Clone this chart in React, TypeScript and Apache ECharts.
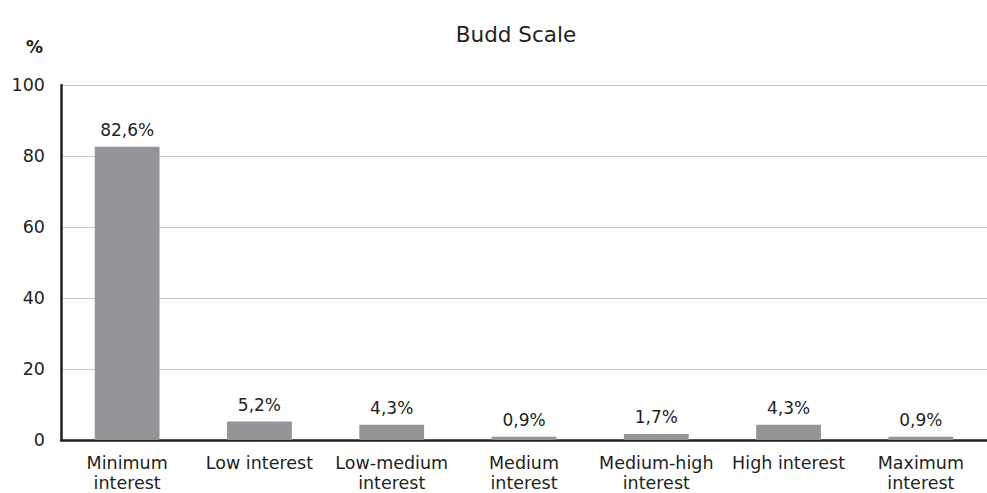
import React, { useEffect, useRef } from "react";
import * as echarts from "echarts";

const categories = [
  "Minimum\ninterest",
  "Low interest",
  "Low-medium\ninterest",
  "Medium\ninterest",
  "Medium-high\ninterest",
  "High interest",
  "Maximum\ninterest",
];
const values = [82.6, 5.2, 4.3, 0.9, 1.7, 4.3, 0.9];
const yTicks = [0, 20, 40, 60, 80, 100];

const FONT = "'DejaVu Sans', sans-serif";
const TEXT = "#231f20";

export default function App() {
  const ref = useRef<HTMLDivElement>(null);

  useEffect(() => {
    if (!ref.current) return;
    const chart = echarts.init(ref.current, undefined, { renderer: "svg" });
    chart.setOption({
      animation: false,
      backgroundColor: "#ffffff",
      title: {
        text: "Budd Scale",
        left: 511,
        top: 18,
        textAlign: "center",
        textStyle: { fontFamily: FONT, fontSize: 21.5, fontWeight: "normal", color: TEXT },
      },
      graphic: [
        {
          type: "text",
          left: 26,
          top: 38,
          style: { text: "%", fontFamily: FONT, fontSize: 17, fontWeight: "bold", fill: TEXT },
        },
      ],
      grid: { left: 61, right: 0, top: 85, bottom: 52, containLabel: false },
      xAxis: {
        type: "category",
        data: categories,
        axisLine: { lineStyle: { color: TEXT, width: 2.5 } },
        axisTick: { show: false },
        axisLabel: {
          color: TEXT,
          fontFamily: FONT,
          fontSize: 17.5,
          lineHeight: 20,
          margin: 13,
          interval: 0,
        },
      },
      yAxis: {
        type: "value",
        min: yTicks[0],
        max: yTicks[yTicks.length - 1],
        interval: 20,
        axisLine: { show: true, lineStyle: { color: TEXT, width: 2.5 } },
        axisTick: { show: false },
        axisLabel: { color: TEXT, fontFamily: FONT, fontSize: 17.5, margin: 16 },
        splitLine: { lineStyle: { color: "#c8c8c8", width: 1 } },
      },
      series: [
        {
          type: "bar",
          data: values,
          barWidth: "49%",
          itemStyle: { color: "#939598" },
          label: {
            show: true,
            position: "top",
            distance: 8,
            color: TEXT,
            fontFamily: FONT,
            fontSize: 17,
            formatter: (p: any) => String(p.value).replace(".", ",") + "%",
          },
        },
      ],
    });
    return () => chart.dispose();
  }, []);

  return (
    <div
      ref={ref}
      style={{ position: "fixed", left: 0, top: 0, width: 987, height: 493 }}
    />
  );
}
